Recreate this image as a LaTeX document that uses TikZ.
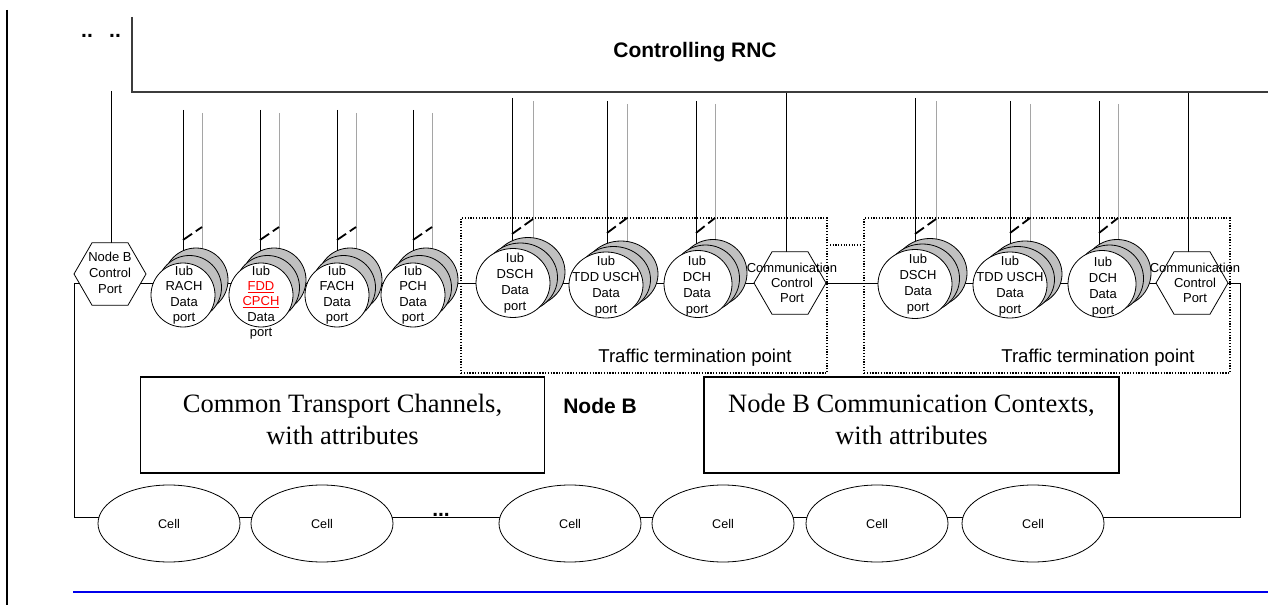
\documentclass[tikz,border=0pt]{standalone}
\usepackage{fontspec}
\setmainfont{Liberation Sans}
\newfontfamily\tmsfont{Liberation Serif}
\usetikzlibrary{shapes.geometric,backgrounds}
\definecolor{portgray}{RGB}{192,192,192}
\definecolor{linegray}{RGB}{165,165,165}
\definecolor{rncgray}{RGB}{60,60,60}
\definecolor{rulblue}{RGB}{0,0,235}
\newsavebox\ulbox
\newcommand\redul[1]{{\color{red}\sbox\ulbox{#1}\rlap{\rule[-2.5pt]{\wd\ulbox}{1.5pt}}\usebox\ulbox}}
% name, x, y, width, height, dx, dy
\newcommand\pstack[7]{%
  \node[backc,minimum width=#4pt,minimum height=#5pt] (#1b2) at (#2+#6,#3-#7) {};
  \node[backc,minimum width=#4pt,minimum height=#5pt] (#1b1) at (#2+#6/2,#3-#7/2) {};
  \node[frontc,minimum width=#4pt,minimum height=#5pt] (#1) at (#2,#3) {};
}
% name, x, black top, gray offset, dash low y, dash rise
\newcommand\plines[6]{%
  \coordinate (#1k) at (#2,#3);
  \coordinate (#1g) at (#2+#4,#3+3);
  \draw[ln] (#1k) -- (#1k |- #1);
  \draw[gln] (#1g) -- (#1g |- #1);
  \coordinate (#1d1) at (#2,#5);
  \coordinate (#1d2) at (#2+#4,#5-#6);
  \draw[dashseg] (#1d1) -- (#1d2);
}
\begin{document}
\begin{tikzpicture}[x=1pt,y=-1pt,
  ln/.style={line width=0.9pt,black},
  gln/.style={line width=0.9pt,linegray},
  dashseg/.style={line width=1.8pt,dash pattern=on 11pt off 4.5pt},
  frontc/.style={ellipse,draw,line width=0.8pt,fill=white,inner sep=0pt},
  backc/.style={ellipse,draw,line width=0.8pt,fill=portgray,inner sep=0pt},
  hexa/.style={regular polygon,regular polygon sides=6,draw,fill=white,line width=0.8pt,minimum size=72pt,inner sep=0pt},
  ptxt/.style={align=center,inner sep=0pt,font=\fontsize{13}{15.3}\selectfont},
  ptxtb/.style={align=center,inner sep=0pt,font=\fontsize{13}{16}\selectfont},
  htxt/.style={align=center,inner sep=0pt,font=\fontsize{13}{15}\selectfont},
  cell/.style={ellipse,draw,line width=0.8pt,fill=white,minimum width=142pt,minimum height=77pt,inner sep=0pt,font=\fontsize{12.6}{14}\selectfont},
  bigbox/.style={rectangle,draw,line width=1.5pt,inner sep=0pt,minimum height=96pt},
  bigtxt/.style={align=center,inner sep=0pt,font=\tmsfont\fontsize{26.5}{32}\selectfont},
  boldlbl/.style={inner sep=0pt,anchor=base,font=\bfseries\fontsize{21}{24}\selectfont},
  ttptxt/.style={inner sep=0pt,anchor=base,font=\fontsize{18.6}{22}\selectfont},
  ttpbox/.style={rectangle,draw,line width=1.3pt,dash pattern=on 1.3pt off 1.5pt,minimum width=366pt,minimum height=155pt,inner sep=0pt},
]
\useasboundingbox (0,0) rectangle (1268,612);

% outer lines
\coordinate (lbT) at (7,10);
\coordinate (lbB) at (7,605);
\draw[line width=2.5pt] (lbT) -- (lbB);
\coordinate (blL) at (73,592);
\coordinate (blR) at (1268,592);
\draw[rulblue,line width=2pt] (blL) -- (blR);

% Controlling RNC
\coordinate (rncT) at (132,17);
\coordinate (rncC) at (132,92);
\coordinate (rncR) at (1268,92);
\draw[rncgray,line width=1.3pt] (rncT) -- (rncC) -- (rncR);
\node[boldlbl] (rnc) at (695,58) {Controlling RNC};
\node[boldlbl] (dots1) at (87,38) {..};
\node[boldlbl] (dots2) at (115,38) {..};

% traffic termination points
\node[ttpbox] (ttpA) at (644,295.5) {};
\node[ttpbox] (ttpB) at (1047,295.5) {};
\coordinate (dlA) at (830,245);
\coordinate (dlB) at (860,245);
\draw[line width=1.1pt,dash pattern=on 1.1pt off 1.6pt] (dlA) -- (dlB);
\node[ttptxt] (ttpAt) at (695,362) {Traffic termination point};
\node[ttptxt] (ttpBt) at (1098,362) {Traffic termination point};

% port stacks
\pstack{rach}{183}{295}{64}{64}{13}{15}
\pstack{fdd}{261}{295}{64}{64}{13}{15}
\pstack{fach}{337}{295}{64}{64}{13}{15}
\pstack{pch}{413}{295}{64}{64}{13}{15}
\pstack{dschA}{513}{283}{74}{69}{15}{11}
\pstack{tddA}{606}{285}{74}{66}{15}{11}
\pstack{dchA}{698}{284}{68}{67}{15}{11}
\pstack{dschB}{915}{284}{74}{69}{15}{11}
\pstack{tddB}{1010}{285}{74}{66}{15}{11}
\pstack{dchB}{1102}{284}{68}{67}{15}{11}

% port texts
\node[ptxt] (rachT) at (184,295) {Iub\\RACH\\Data\\port};
\node[ptxt] (fddT) at (261,302.5) {Iub\\\redul{FDD}\\\redul{CPCH}\\Data\\port};
\node[ptxt] (fachT) at (337,295) {Iub\\FACH\\Data\\port};
\node[ptxt] (pchT) at (413,295) {Iub\\PCH\\Data\\port};
\node[ptxtb] (dschAT) at (515,283) {Iub\\DSCH\\Data\\port};
\node[ptxtb] (tddAT) at (606,286) {Iub\\TDD USCH\\Data\\port};
\node[ptxtb] (dchAT) at (697,286.5) {Iub\\DCH\\Data\\port};
\node[ptxtb] (dschBT) at (918,284) {Iub\\DSCH\\Data\\port};
\node[ptxtb] (tddBT) at (1010,286) {Iub\\TDD USCH\\Data\\port};
\node[ptxtb] (dchBT) at (1103,287) {Iub\\DCH\\Data\\port};

% control ports
\node[hexa] (nbcp) at (110,274) {};
\node[hexa] (ccpA) at (790,283) {};
\node[hexa] (ccpB) at (1192,283) {};
\node[ptxtb] (nbcpT) at (110,273) {Node B\\Control\\Port};
\node[htxt] (ccpAT) at (792,283) {Communication\\Control\\Port};
\node[htxt] (ccpBT) at (1195,283) {Communication\\Control\\Port};

% cells
\node[cell] (c1) at (169,523.5) {Cell};
\node[cell] (c2) at (322,523.5) {Cell};
\node[cell] (c3) at (570,523.5) {Cell};
\node[cell] (c4) at (723,523.5) {Cell};
\node[cell] (c5) at (877,523.5) {Cell};
\node[cell] (c6) at (1033,523.5) {Cell};
\node[boldlbl] (cdots) at (441,516) {...};

% attribute boxes
\node[bigbox,minimum width=404pt] (ctc) at (342.5,425) {};
\node[bigtxt] (ctcT) at (342.5,419) {Common Transport Channels,\\with attributes};
\node[bigbox,minimum width=415pt] (nbcc) at (911.5,425) {};
\node[bigtxt] (nbccT) at (911.5,419) {Node B Communication Contexts,\\with attributes};
\node[boldlbl] (nodeb) at (600,413) {Node B};

\begin{pgfonlayer}{background}
  \coordinate (rowL) at (74,283);
  \coordinate (rowR) at (1240,283);
  \coordinate (botR) at (1240,517);
  \coordinate (botL) at (74,517);
  \draw[ln] (rowL) -- (rowR) -- (botR) -- (botL) -- cycle;
  \coordinate (nbcpTop) at (111,91);
  \coordinate (ccpATop) at (786,92);
  \coordinate (ccpBTop) at (1188,92);
  \draw[ln] (nbcpTop) -- (nbcpTop |- nbcp);
  \draw[ln] (ccpATop) -- (ccpATop |- ccpA);
  \draw[ln] (ccpBTop) -- (ccpBTop |- ccpB);
  \plines{rach}{183}{110}{19}{240}{13}
  \plines{fdd}{260}{110}{19}{240}{13}
  \plines{fach}{337}{110}{19}{240}{13}
  \plines{pch}{413}{110}{19}{240}{13}
  \plines{dschA}{512}{98}{21}{234}{15}
  \plines{tddA}{607}{101}{20}{233}{15}
  \plines{dchA}{696}{101}{19}{233}{15}
  \plines{dschB}{915}{98}{21}{234}{15}
  \plines{tddB}{1010}{101}{20}{233}{15}
  \plines{dchB}{1099}{101}{19}{233}{15}
\end{pgfonlayer}
\end{tikzpicture}
\end{document}
